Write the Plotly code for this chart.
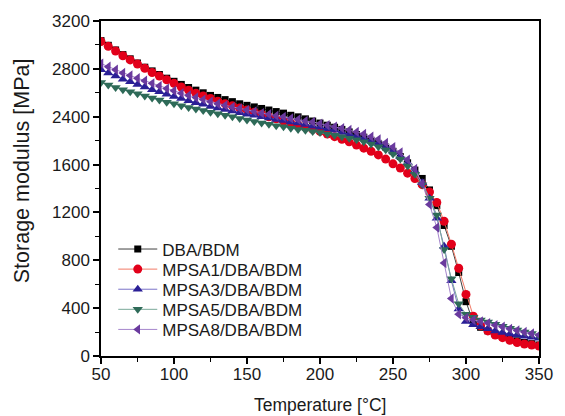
import plotly.graph_objects as go

# Temperature [°C], one point every 5 °C
temperature = list(range(50, 355, 5))

# Storage modulus values in the chart's own axis units
dba_bdm = [2636, 2597, 2558, 2519, 2484, 2449, 2414, 2383, 2353, 2322,
           2296, 2270, 2244, 2222, 2200, 2178, 2161, 2143, 2126, 2108,
           2095, 2082, 2069, 2056, 2043, 2030, 2012, 1999, 1982, 1964,
           1947, 1929, 1912, 1894, 1873, 1851, 1829, 1803, 1777, 1746,
           1711, 1667, 1615, 1554, 1484, 1388, 1257, 1091, 917, 698,
           454, 279, 240, 210, 183, 162, 144, 127, 113, 103, 92]
mpsa1 = [2628, 2588, 2549, 2510, 2475, 2440, 2405, 2370, 2340, 2309,
         2279, 2248, 2222, 2196, 2174, 2152, 2130, 2108, 2091, 2073,
         2056, 2038, 2021, 1999, 1982, 1964, 1947, 1929, 1912, 1894,
         1877, 1855, 1833, 1811, 1790, 1763, 1737, 1711, 1681, 1646,
         1606, 1571, 1528, 1484, 1432, 1371, 1283, 1126, 934, 733,
         515, 332, 253, 210, 175, 153, 131, 113, 100, 92, 83]
mpsa3 = [2392, 2366, 2340, 2313, 2292, 2270, 2248, 2226, 2209, 2187,
         2169, 2152, 2134, 2117, 2104, 2086, 2073, 2060, 2047, 2034,
         2021, 2012, 1999, 1990, 1977, 1969, 1956, 1947, 1934, 1921,
         1912, 1899, 1886, 1868, 1855, 1838, 1820, 1798, 1777, 1746,
         1711, 1667, 1615, 1545, 1449, 1318, 1152, 917, 629, 393,
         288, 262, 244, 227, 210, 196, 183, 175, 166, 157, 148]
mpsa5 = [2287, 2265, 2244, 2226, 2209, 2191, 2174, 2156, 2139, 2121,
         2108, 2091, 2078, 2065, 2052, 2038, 2025, 2012, 1999, 1986,
         1973, 1960, 1947, 1938, 1925, 1916, 1903, 1894, 1886, 1877,
         1868, 1855, 1846, 1833, 1820, 1807, 1790, 1772, 1750, 1724,
         1689, 1646, 1589, 1519, 1432, 1318, 1179, 890, 646, 437,
         349, 323, 301, 284, 266, 249, 231, 218, 201, 188, 170]
mpsa8 = [2444, 2418, 2392, 2366, 2344, 2322, 2300, 2279, 2257, 2235,
         2217, 2196, 2178, 2161, 2143, 2126, 2108, 2095, 2082, 2069,
         2056, 2043, 2030, 2021, 2008, 1999, 1986, 1977, 1964, 1956,
         1942, 1929, 1916, 1903, 1890, 1873, 1855, 1833, 1811, 1781,
         1746, 1702, 1641, 1563, 1440, 1266, 1074, 777, 480, 349,
         319, 301, 288, 275, 258, 244, 227, 214, 201, 188, 175]

series_names = ["DBA/BDM", "MPSA1/DBA/BDM", "MPSA3/DBA/BDM", "MPSA5/DBA/BDM", "MPSA8/DBA/BDM"]
series_values = [dba_bdm, mpsa1, mpsa3, mpsa5, mpsa8]
marker_colors = ["#000000", "#e2001a", "#2a1f96", "#2e6a58", "#6a3a9e"]
line_colors = ["#404040", "#f27a66", "#7a72c8", "#7aa898", "#a585cc"]
symbols = ["square", "circle", "triangle-up", "triangle-down", "triangle-left"]
sizes = [7, 9, 9, 9, 9]

# y-axis tick positions and the labels printed in the reference
y_tickvals = [0, 400, 800, 1200, 1600, 2000, 2400, 2800]
y_ticktext = ["0", "400", "800", "1200", "1600", "2400", "2800", "3200"]
x_tickvals = [50, 100, 150, 200, 250, 300, 350]

FONT = "Liberation Sans, Arial, sans-serif"
legend_ids = ["legend", "legend2", "legend3", "legend4", "legend5"]
legend_y = [0.318, 0.258, 0.198, 0.138, 0.078]

fig = go.Figure()
for name, vals, mc, lc, sym, sz, lid in zip(series_names, series_values, marker_colors,
                                            line_colors, symbols, sizes, legend_ids):
    fig.add_trace(go.Scatter(
        x=temperature, y=vals, name=name, mode="lines+markers", legend=lid,
        line=dict(color=lc, width=1),
        marker=dict(symbol=sym, size=sz, color=mc, line=dict(width=0)),
    ))

layout_legends = {}
for lid, ly in zip(legend_ids, legend_y):
    layout_legends[lid] = dict(x=0.028, y=ly, xanchor="left", yanchor="middle",
                               bgcolor="rgba(0,0,0,0)", borderwidth=0,
                               font=dict(family=FONT, size=17, color="#1a1a1a"),
                               itemwidth=39)

fig.update_layout(
    width=565, height=416,
    margin=dict(l=101, r=16, t=21, b=60),
    paper_bgcolor="white", plot_bgcolor="white",
    font=dict(family=FONT, size=17, color="#1a1a1a"),
    showlegend=True,
    **layout_legends,
)
fig.update_xaxes(
    range=[50, 350], tickvals=x_tickvals, ticks="outside", ticklen=6, tickwidth=1.5,
    tickcolor="black", showline=True, linecolor="black", linewidth=1.5, mirror=True,
    showgrid=False, zeroline=False, tickfont=dict(size=17), ticklabelstandoff=-4,
    minor=dict(dtick=25, tick0=50, ticks="outside", ticklen=4, tickcolor="black", tickwidth=1.2),
)
fig.update_yaxes(
    range=[0, 2800], tickvals=y_tickvals, ticktext=y_ticktext, ticks="outside", ticklen=6,
    tickwidth=1.5, tickcolor="black", showline=True, linecolor="black", linewidth=1.5,
    mirror=True, showgrid=False, zeroline=False, tickfont=dict(size=17),
    minor=dict(dtick=200, tick0=0, ticks="outside", ticklen=4, tickcolor="black", tickwidth=1.2),
)
fig.add_annotation(text="Temperature [°C]", xref="paper", yref="paper", x=0.5, y=-0.146,
                   showarrow=False, font=dict(size=17.5), xanchor="center", yanchor="middle")
fig.add_annotation(text="Storage modulus [MPa]", xref="paper", yref="paper", x=-0.18, y=0.552,
                   showarrow=False, textangle=-90, font=dict(size=21.5), xanchor="center",
                   yanchor="middle")

fig.write_html("out.html")
